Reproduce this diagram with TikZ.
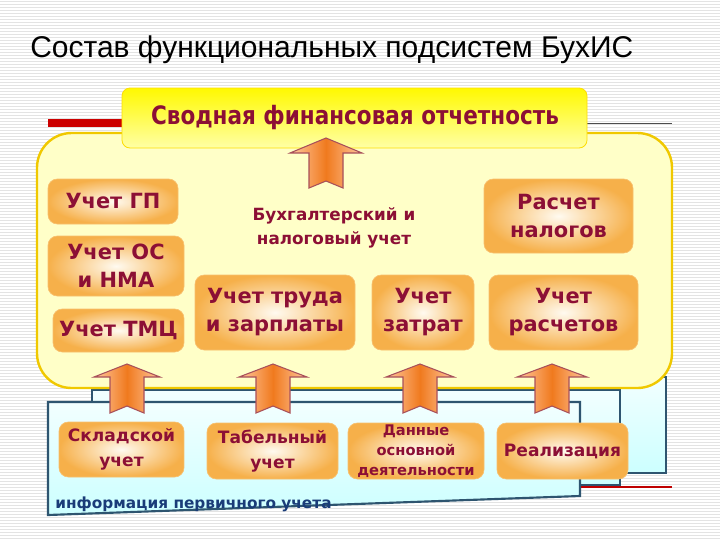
\documentclass[tikz,border=0pt]{standalone}
\usepackage{fontspec}
\setmainfont{DejaVu Sans}
\newfontfamily\titlefont{Liberation Sans}
\definecolor{maroon}{HTML}{8C0F35}
\definecolor{navytext}{HTML}{1A3C78}
\definecolor{bluebord}{HTML}{2E5570}
\definecolor{contfill}{HTML}{FFFFC8}
\definecolor{contbord}{HTML}{F0C800}
\definecolor{boxout}{HTML}{F6B04A}
\definecolor{boxin}{HTML}{FFFAF0}
\definecolor{arrowmid}{HTML}{F07A1E}
\definecolor{arrowside}{HTML}{FFC8A0}
\definecolor{arrowbord}{HTML}{A8505A}
\tikzset{
  sz/.style 2 args={minimum width=#1*0.75pt, minimum height=#2*0.75pt},
  stripe/.style={draw=black!11, line width=0.75pt},
  bluebox/.style={draw=bluebord, line width=1.6pt, top color=cyan!5, bottom color=cyan!20},
  container/.style={draw=contbord, line width=1.8pt, fill=contfill, rounded corners=26pt},
  topbox/.style={draw=yellow!80!orange, line width=0.6pt, rounded corners=6pt, top color=yellow!95!orange, bottom color=yellow!35},
  obox/.style={rounded corners=7pt, shading=radial, inner color=boxin, outer color=boxout, draw=boxout!80!white, line width=0.5pt,
     align=center, text=maroon, font=\bfseries\fontsize{15.7}{21}\selectfont, inner sep=0pt},
  sbox/.style={obox, font=\bfseries\fontsize{12.8}{18.5}\selectfont},
  arrowstyle/.style={draw=arrowbord, line width=0.8pt, left color=arrowside, right color=arrowside, middle color=arrowmid, line join=miter},
}
\newcommand{\blockup}[5]{% cx, tip y, head base y, bottom y, head half width
  \path[arrowstyle] (#1,#2) -- (#1+#5,#3) -- (#1+17,#3) -- (#1+17,#4) -- (#1,#4-7) -- (#1-17,#4) -- (#1-17,#3) -- (#1-#5,#3) -- cycle;}
\begin{document}
\begin{tikzpicture}[x=0.75pt,y=-0.75pt]
\useasboundingbox (0,0) rectangle (720,540);
\fill[white] (0,0) rectangle (720,540);
\foreach \yy in {1,4,...,540} \draw[stripe] (0,\yy) -- (720,\yy);
% template lines
\fill[red!80!black] (48,119) rectangle (125,127);
\draw[black!70, line width=0.6pt] (580,123) -- (672,123);
\draw[red!75!black, line width=0.8pt] (580,487) -- (672,487);
% title
\node[anchor=base west, inner sep=0pt, font=\titlefont\fontsize{22.5}{27}\selectfont] (title) at (30,57) {Состав функциональных подсистем БухИС};
% blue layered boxes
\path[bluebox] (130,377) rectangle (666,473);
\path[bluebox] (92,390) rectangle (620,485);
\path[bluebox] (48,402) -- (580,402) -- (580,496) -- (48,515) -- cycle;
% container
\path[container] (37,133) rectangle (672,388);
% top box
\path[topbox] (122,88) rectangle (587,148);
\node[text=maroon, font=\bfseries\fontsize{19}{22}\selectfont, inner sep=0pt] (svod) at (355,118) {\scalebox{0.85}[1]{Сводная финансовая отчетность}};
% arrows
\blockup{326}{138}{153}{188}{36}
\blockup{127}{364}{377}{413}{33}
\blockup{273}{364}{377}{413}{34}
\blockup{420}{364}{377}{413}{34}
\blockup{552}{364}{377}{413}{35}
% inner boxes
\node[obox, sz={130}{45}] (gp) at (113,201.5) {Учет ГП};
\node[obox, sz={136}{60}] (os) at (116,266) {Учет ОС\\и НМА};
\node[obox, sz={131}{43}] (tmc) at (118.5,330.5) {Учет ТМЦ};
\node[obox, sz={160}{75}] (trud) at (275,312.5) {Учет труда\\и зарплаты};
\node[obox, sz={102}{75}] (zatr) at (423,312.5) {Учет\\затрат};
\node[obox, sz={149}{74}] (nalog) at (558.5,216) {Расчет\\налогов};
\node[obox, sz={149}{75}] (rasch) at (563.5,312.5) {Учет\\расчетов};
\node[align=center, text=maroon, font=\bfseries\fontsize{12.6}{18.5}\selectfont] (buh) at (334,228) {Бухгалтерский и\\налоговый учет};
% bottom boxes
\node[sbox, sz={125}{55}] (sklad) at (121.5,449.5) {Складской\\учет};
\node[sbox, sz={131}{56}] (tabel) at (272.5,451) {Табельный\\учет};
\node[sbox, sz={136}{56}, font=\bfseries\fontsize{11}{15}\selectfont] (dannye) at (416,451) {Данные\\основной\\деятельности};
\node[sbox, sz={131}{56}] (real) at (562.5,451) {Реализация};
\node[anchor=base west, inner sep=0pt, text=navytext, font=\bfseries\fontsize{11.5}{14}\selectfont] (info) at (55,508) {информация первичного учета};
\end{tikzpicture}
\end{document}
